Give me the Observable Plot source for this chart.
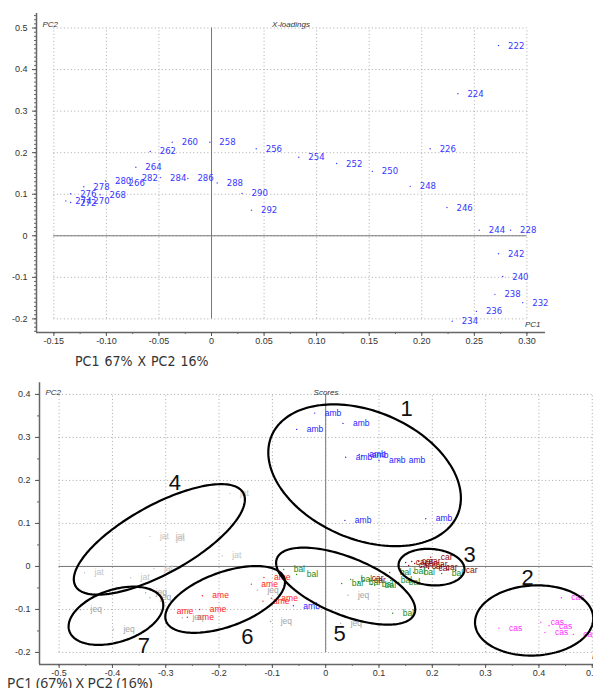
<!DOCTYPE html>
<html>
<head>
<meta charset="utf-8">
<script src="https://cdn.jsdelivr.net/npm/d3@7"></script>
<script src="https://cdn.jsdelivr.net/npm/@observablehq/plot@0.6"></script>
<style>
html, body { margin:0; padding:0; background:#fff; overflow:hidden; width:593px; height:688px; }
#wrap { position:relative; width:593px; height:688px; overflow:hidden; }
#top { position:absolute; left:0; top:0; width:593px; }
#bottom { position:absolute; left:0; top:370px; width:612px; }
#cap1 { position:absolute; left:75px; top:353px; font-family:"Liberation Sans Narrow","DejaVu Sans Condensed",sans-serif; font-size:14px; color:#333; word-spacing:1px; white-space:nowrap; }
#cap2 { position:absolute; left:7px; top:673px; font-family:"Noto Sans",sans-serif; font-size:14px; color:#333; white-space:nowrap; }
svg { max-width:none !important; }
</style>
</head>
<body>
<div id="wrap">
  <div id="top"></div>
  <div id="cap1">PC1 67% X PC2 16%</div>
  <div id="bottom"></div>
  <div id="cap2">PC1 (67%) X PC2 (16%)</div>
</div>
<script>
// ---------- X-loadings (top panel) ----------
const loadingWavelength = ["222","224","226","228","232","234","236","238","240","242","244","246","248","250","252","254","256","258","260","262","264","266","268","270","272","274","276","278","280","282","284","286","288","290","292"];
const loadingPC1 = [0.273,0.2344,0.208,0.2845,0.296,0.229,0.252,0.2696,0.277,0.273,0.2547,0.224,0.189,0.153,0.119,0.083,0.0425,-0.0016,-0.0374,-0.0583,-0.072,-0.088,-0.106,-0.1215,-0.134,-0.1386,-0.134,-0.1215,-0.1009,-0.0755,-0.0485,-0.0225,0.0054,0.029,0.038];
const loadingPC2 = [0.458,0.342,0.2095,0.0135,-0.161,-0.2056,-0.182,-0.141,-0.098,-0.0434,0.0135,0.068,0.119,0.155,0.174,0.189,0.2095,0.225,0.225,0.203,0.165,0.127,0.0987,0.083,0.080,0.084,0.101,0.118,0.132,0.139,0.140,0.138,0.127,0.102,0.0617];

const topXTicks = [-0.15,-0.10,-0.05,0,0.05,0.10,0.15,0.20,0.25,0.30];
const topYTicks = [-0.2,-0.1,0,0.1,0.2,0.3,0.4,0.5];

// ---------- Scores (bottom panel) ----------
const scoreGroups = ["amb","car","bal","cas","ame","jat","jeq"];
const scoreColors = ["#2424ff","#8e0b0b","#1b8a1b","#ff30ff","#ff1c1c","#c2c2c2","#a4a4a4"];
const ambPC1 = [-0.0206,-0.0544,0.0325,0.0375,0.063,0.068,0.100,0.137,0.036,0.1876,-0.0606];
const ambPC2 = [0.3566,0.3186,0.3326,0.254,0.2605,0.2574,0.2465,0.2465,0.107,0.111,-0.0915];
const carPC1 = [0.197,0.2064,0.244,0.150,0.1557,0.1614,0.167,0.1745,0.180,0.1876,0.193,0.0675,0.0719];
const carPC2 = [0.0216,-0.003,-0.0093,0.0093,0.0023,0.0116,0.007,0.0116,0.0,0.0047,-0.0047,-0.027,-0.0326];
const balPC1 = [-0.0788,-0.0544,0.030,0.0469,0.0619,0.0863,0.0919,0.120,0.122,0.137,0.1463,0.165,0.2176,0.1257];
const balPC2 = [-0.007,-0.0186,-0.0395,-0.030,-0.037,-0.042,-0.044,-0.014,-0.0326,-0.037,-0.0116,-0.014,-0.0163,-0.109];
const casPC1 = [0.442,0.325,0.4034,0.419,0.4114,0.4645];
const casPC2 = [-0.0728,-0.1435,-0.1295,-0.138,-0.1535,-0.158];
const amePC1 = [-0.2313,-0.2983,-0.2364,-0.2595,-0.1394,-0.1158,-0.1019,-0.1176];
const amePC2 = [-0.068,-0.104,-0.100,-0.118,-0.0412,-0.0256,-0.0737,-0.0807];
const jatPC1 = [-0.1796,-0.3296,-0.300,-0.2996,-0.1938,-0.4522,-0.3659,-0.3222];
const jatPC2 = [0.170,0.0698,0.0705,0.0644,0.0249,-0.0147,-0.0263,-0.0047];
const jeqPC1 = [-0.4597,-0.3981,-0.3377,-0.3296,-0.2688,-0.1281,-0.1032,0.0418,0.0281];
const jeqPC2 = [-0.1007,-0.1465,-0.0612,-0.0728,-0.1193,-0.0551,-0.1279,-0.0667,-0.1319];

const bottomXTicks = [-0.5,-0.4,-0.3,-0.2,-0.1,0,0.1,0.2,0.3,0.4,0.5];
const bottomYTicks = [-0.2,-0.1,0,0.1,0.2,0.3,0.4];

// cluster ellipses (centre in PC units, semi-axes in PC1 units, screen tilt in degrees)
const clusterId = ["1","2","3","4","5","6","7"];
const clusterCx = [0.073,0.391,0.1985,-0.312,0.0375,-0.1886,-0.3934];
const clusterCy = [0.212,-0.1256,-0.0016,0.0628,-0.0458,-0.0767,-0.1147];
const clusterA = [0.1895,0.111,0.062,0.18,0.139,0.118,0.092];
const clusterB = [0.12,0.0657,0.034,0.064,0.054,0.051,0.049];
const clusterTilt = [23,-3,5,-29,22,-20,-18];
const clusterLabelX = [0.152,0.379,0.270,-0.283,0.026,-0.147,-0.341];
const clusterLabelY = [0.367,-0.026,0.026,0.193,-0.156,-0.164,-0.184];

// ---------- helpers ----------
const r6 = v => Math.round(v*1e6)/1e6;
function minorTicks(lo, hi, step) {
  const out = [];
  for (let k = Math.ceil(lo/step - 1e-9); k*step <= hi + 1e-9; k++) out.push(r6(k*step));
  return out;
}
const baseFont = "'Liberation Sans', Arial, sans-serif";
const narrowFont = "'Liberation Sans Narrow', 'DejaVu Sans Condensed', 'Liberation Sans', sans-serif";

// ---------- top chart ----------
{
  const W = 593, H = 348, ML = 36, MR = 48, MT = 13, MB = 16;
  const xD = [-0.1665, 0.3177], yD = [-0.2328, 0.535];
  const loadings = loadingWavelength.map((w,i) => ({w, x: loadingPC1[i], y: loadingPC2[i]}));
  const gridStyle = {stroke:"#a8a8a8", strokeDasharray:"1,2.5", strokeWidth:1};
  const chart = Plot.plot({
    width: W, height: H, marginLeft: ML, marginRight: MR, marginTop: MT, marginBottom: MB,
    x: {domain: xD, axis: null},
    y: {domain: yD, axis: null},
    style: {fontFamily: baseFont, fontSize: "9px", color: "#333", background: "white", maxWidth: "none"},
    marks: [
      Plot.ruleX(topXTicks, {y1: -0.2, y2: 0.5, ...gridStyle}),
      Plot.ruleY(topYTicks, {x1: -0.15, x2: 0.30, ...gridStyle}),
      Plot.ruleX([0], {y1: -0.2, y2: 0.5, stroke: "#777", strokeWidth: 1}),
      Plot.ruleY([0], {x1: -0.15, x2: 0.30, stroke: "#777", strokeWidth: 1}),
      Plot.ruleX([xD[0]], {stroke: "#666", strokeWidth: 1.5}),
      Plot.ruleY([yD[0]], {stroke: "#666", strokeWidth: 1.5}),
      Plot.axisY(minorTicks(-0.23, 0.53, 0.01), {anchor: "left", label: null, tickSize: 2, tickFormat: () => "", stroke: "#666"}),
      Plot.axisY(topYTicks, {anchor: "left", label: null, tickSize: 4, tickPadding: 5, stroke: "#555", fontSize: 9,
        tickFormat: d => d === 0 ? "0" : d.toFixed(1)}),
      Plot.axisX(minorTicks(-0.16, 0.31, 0.025), {anchor: "bottom", label: null, tickSize: 2, tickFormat: () => "", stroke: "#666"}),
      Plot.axisX(topXTicks, {anchor: "bottom", label: null, tickSize: 4, tickPadding: 1, stroke: "#555", fontSize: 9,
        tickFormat: d => d === 0 ? "0" : d.toFixed(2)}),
      Plot.dot(loadings, {x: "x", y: "y", r: 0.7, fill: "#3a3aff", stroke: "none"}),
      Plot.text(loadings, {x: "x", y: "y", text: "w", dx: 9.5, textAnchor: "start", fill: "#3636ff",
        fontSize: 9.5, fontFamily: narrowFont}),
      Plot.text(["PC2"], {frameAnchor: "top-left", dx: 6, dy: 8, fontStyle: "italic", fontSize: 8, textAnchor: "start", fill: "#333"}),
      Plot.text(["X-loadings"], {frameAnchor: "top", dy: 8, fontStyle: "italic", fontSize: 8, fill: "#333"}),
      Plot.text(["PC1"], {frameAnchor: "bottom-right", dx: -5, dy: -6, fontStyle: "italic", fontSize: 8, textAnchor: "end", fill: "#333"})
    ]
  });
  document.getElementById("top").appendChild(chart);
}

// ---------- bottom chart ----------
{
  const W = 612, H = 308, ML = 39, MR = 0, MT = 12.3, MB = 14;
  const xD = [-0.5368, 0.538], yD = [-0.228, 0.427];
  const kx = (W - ML - MR) / (xD[1] - xD[0]);
  const ky = (H - MT - MB) / (yD[1] - yD[0]);

  const groupX = {amb: ambPC1, car: carPC1, bal: balPC1, cas: casPC1, ame: amePC1, jat: jatPC1, jeq: jeqPC1};
  const groupY = {amb: ambPC2, car: carPC2, bal: balPC2, cas: casPC2, ame: amePC2, jat: jatPC2, jeq: jeqPC2};
  const scores = [];
  scoreGroups.forEach(g => groupX[g].forEach((v, i) => scores.push({g, x: v, y: groupY[g][i]})));

  const ellipses = [];
  clusterId.forEach((id, i) => {
    const th = clusterTilt[i] * Math.PI / 180;
    const a = clusterA[i] * kx, b = clusterB[i] * kx;
    const n = 160;
    for (let k = 0; k <= n; k++) {
      const t = 2 * Math.PI * k / n;
      const px = a * Math.cos(t) * Math.cos(th) - b * Math.sin(t) * Math.sin(th);
      const py = a * Math.cos(t) * Math.sin(th) + b * Math.sin(t) * Math.cos(th);
      ellipses.push({id, x: clusterCx[i] + px / kx, y: clusterCy[i] - py / ky});
    }
  });
  const clusterLabels = clusterId.map((id, i) => ({id, x: clusterLabelX[i], y: clusterLabelY[i]}));

  const gridStyle = {stroke:"#a8a8a8", strokeDasharray:"1,2.5", strokeWidth:1};
  const chart = Plot.plot({
    width: W, height: H, marginLeft: ML, marginRight: MR, marginTop: MT, marginBottom: MB,
    x: {domain: xD, axis: null},
    y: {domain: yD, axis: null},
    color: {domain: scoreGroups, range: scoreColors},
    style: {fontFamily: baseFont, fontSize: "9px", color: "#333", background: "white", maxWidth: "none"},
    marks: [
      Plot.ruleX(bottomXTicks, {y1: -0.2, y2: 0.4, ...gridStyle}),
      Plot.ruleY(bottomYTicks, {x1: -0.5, x2: 0.5, ...gridStyle}),
      Plot.ruleX([0], {y1: -0.2, y2: 0.4, stroke: "#777", strokeWidth: 1}),
      Plot.ruleY([0], {x1: -0.5, x2: 0.5, stroke: "#777", strokeWidth: 1}),
      Plot.ruleX([xD[0]], {stroke: "#666", strokeWidth: 1.5}),
      Plot.ruleY([yD[0]], {stroke: "#666", strokeWidth: 1.5}),
      Plot.axisY(minorTicks(-0.2, 0.4, 0.05), {anchor: "left", label: null, tickSize: 2, tickFormat: () => "", stroke: "#666"}),
      Plot.axisY(bottomYTicks, {anchor: "left", label: null, tickSize: 4, tickPadding: 5, stroke: "#555", fontSize: 9,
        tickFormat: d => d === 0 ? "0" : d.toFixed(1)}),
      Plot.axisX(minorTicks(-0.5, 0.5, 0.05), {anchor: "bottom", label: null, tickSize: 2, tickFormat: () => "", stroke: "#666"}),
      Plot.axisX(bottomXTicks, {anchor: "bottom", label: null, tickSize: 4, tickPadding: 1, stroke: "#555", fontSize: 9,
        tickFormat: d => d === 0 ? "0" : d.toFixed(1)}),
      Plot.dot(scores, {x: "x", y: "y", r: 0.7, fill: "g", stroke: "none"}),
      Plot.text(scores, {x: "x", y: "y", text: "g", dx: 10, textAnchor: "start", fill: "g", fontSize: 8.5}),
      Plot.line(ellipses, {x: "x", y: "y", z: "id", stroke: "black", strokeWidth: 2.2, curve: "linear"}),
      Plot.text(clusterLabels, {x: "x", y: "y", text: "id", fontSize: 22, fill: "#111"}),
      Plot.text(["PC2"], {frameAnchor: "top-left", dx: 6, dy: 7, fontStyle: "italic", fontSize: 8, textAnchor: "start", fill: "#333"}),
      Plot.text(["Scores"], {frameAnchor: "top", dy: 7, fontStyle: "italic", fontSize: 8, fill: "#333"}),
      Plot.text(["PC1"], {frameAnchor: "bottom-right", dx: -5, dy: -6, fontStyle: "italic", fontSize: 8, textAnchor: "end", fill: "#333"})
    ]
  });
  document.getElementById("bottom").appendChild(chart);
}
</script>
</body>
</html>
